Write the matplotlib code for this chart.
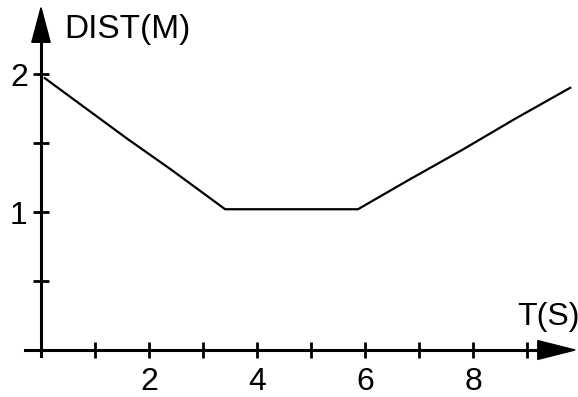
import matplotlib.pyplot as plt
from matplotlib.patches import Polygon

plt.rcParams['font.family'] = ['Liberation Sans', 'DejaVu Sans']

# dist vs time
t = [0.07, 0.8, 1.6, 2.4, 3.41, 4.5, 5.87, 6.8, 7.8, 8.8, 9.8]
dist = [1.97, 1.76, 1.53, 1.31, 1.02, 1.02, 1.02, 1.23, 1.45, 1.68, 1.90]

xticks_major = [2, 4, 6, 8]
xticks_minor = [1, 3, 5, 7, 9]
yticks_major = [1, 2]
yticks_minor = [0.5, 1.5]

fig = plt.figure(figsize=(5.78, 3.97), dpi=100)
ax = fig.add_axes([0, 0, 1, 1])
ax.set_xlim(-41 / 54, 537 / 54)
ax.set_ylim(-47 / 138, 350 / 138)

ax.plot(t, dist, color='black', lw=1.6)

for s in ['top', 'right']:
    ax.spines[s].set_visible(False)
ax.spines['left'].set_position(('data', 0))
ax.spines['bottom'].set_position(('data', 0))
ax.spines['left'].set_bounds(-0.04, 2.3)
ax.spines['bottom'].set_bounds(-0.3, 9.3)
ax.spines['left'].set_linewidth(2.2)
ax.spines['bottom'].set_linewidth(2.2)

ax.set_xticks(xticks_major)
ax.set_xticks(xticks_minor, minor=True)
ax.set_yticks(yticks_major)
ax.set_yticks(yticks_minor, minor=True)
ax.tick_params(which='both', direction='inout', length=11, width=2.0,
               labelsize=23, color='black')
ax.tick_params(axis='x', pad=7)
ax.tick_params(axis='y', pad=4)

# arrow heads
ax.add_patch(Polygon([[9.89, 0], [9.2, 0.068], [9.2, -0.068]],
                     closed=True, color='black', clip_on=False))
ax.add_patch(Polygon([[0, 2.48], [-0.17, 2.23], [0.17, 2.23]],
                     closed=True, color='black', clip_on=False))

ax.text(0.43, 2.32, 'DIST(M)', fontsize=24, va='center', ha='left')
ax.text(9.97, 0.24, 'T(S)', fontsize=23, va='center', ha='right')

fig.savefig('out.png', dpi=100)
